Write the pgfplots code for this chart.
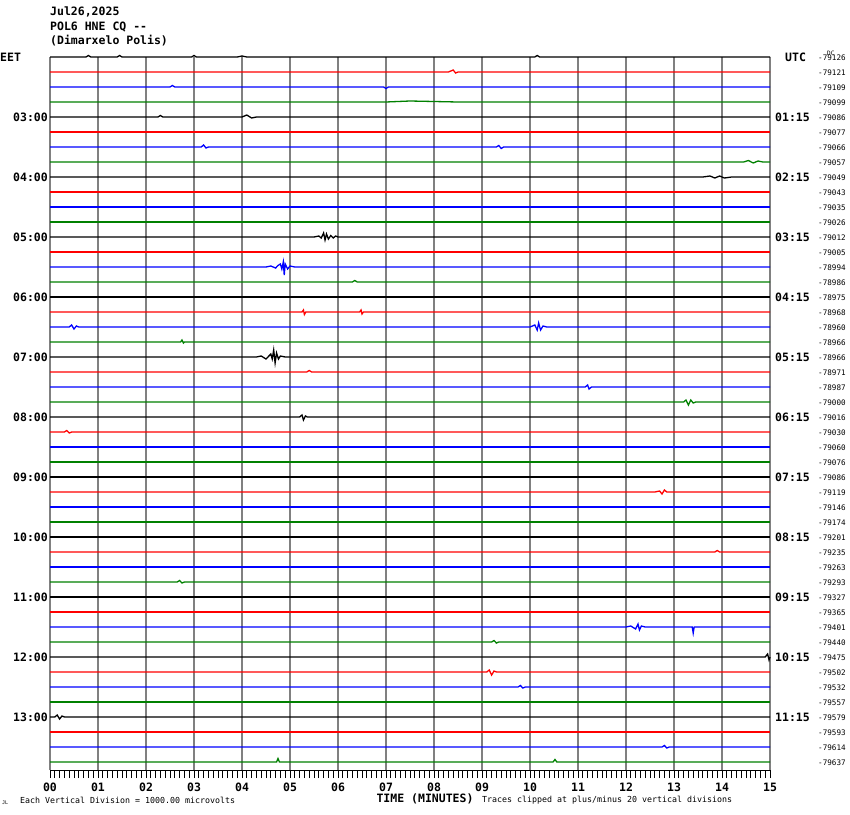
\documentclass[border=0pt]{standalone}
\usepackage{pgfplots}
\pgfplotsset{compat=1.18}
\usepackage{fontspec}
\setmainfont{DejaVu Sans Mono}
\definecolor{tgreen}{RGB}{0,128,0}
\definecolor{tred}{RGB}{255,0,0}
\definecolor{tblue}{RGB}{0,0,255}
\definecolor{gridgray}{RGB}{128,128,128}
\newcommand\bigf{\fontsize{11.5}{12}\selectfont\bfseries}
\newcommand\smallf{\fontsize{8.3}{9}\selectfont}
\newcommand\numf{\fontsize{7.6}{8}\selectfont}
\begin{document}
\begin{tikzpicture}
\path[use as bounding box] (0pt,0pt) rectangle (850pt,-814pt);
\begin{axis}[
  at={(50pt,-770pt)}, anchor=south west,
  width=720pt, height=713pt, scale only axis,
  xmin=0, xmax=15, ymin=-713, ymax=0,
  clip=false,
  axis x line*=bottom, axis y line=none,
  axis line style={black, line width=1pt},
  xtick={0,...,15},
  xticklabels={00,01,02,03,04,05,06,07,08,09,10,11,12,13,14,15},
  minor x tick num=9,
  tick align=outside,
  major tick length=8pt, minor tick length=8pt,
  tick style={black, line width=0.9pt},
  xticklabel style={font=\bigf, yshift=-1.5pt},
  xmajorgrids, grid style={gridgray, line width=1.1pt},
  every axis plot/.append style={line width=1.3pt, mark=none, line join=miter},
]
% trace 0-3
\addplot[black] coordinates {(0,0)(0.75,0)(0.8,1.5)(0.85,0)(1.4,0)(1.45,1.5)(1.5,0)(2.95,0)(3,1.5)(3.05,0)(3.9,0)(4,1)(4.1,0)(10.1,0)(10.15,1.5)(10.2,0)(15,0)};
\addplot[tred] coordinates {(0,-15)(8.3,-15)(8.4,-13)(8.45,-16)(8.5,-15)(15,-15)};
\addplot[tblue] coordinates {(0,-30)(2.5,-30)(2.55,-28.5)(2.6,-30)(6.95,-30)(7.0,-31.5)(7.05,-30)(15,-30)};
\addplot[tgreen] coordinates {(0,-45)(7,-45)(7.5,-44)(8.5,-45)(15,-45)};
% 4-7
\addplot[black] coordinates {(0,-60)(2.25,-60)(2.3,-58.5)(2.35,-60)(4.0,-60)(4.1,-58)(4.2,-61)(4.3,-60)(15,-60)};
\addplot[tred] coordinates {(0,-75)(15,-75)};
\addplot[tblue] coordinates {(0,-90)(3.15,-90)(3.2,-88)(3.25,-91)(3.3,-90)(9.3,-90)(9.35,-88.5)(9.4,-91.5)(9.45,-90)(15,-90)};
\addplot[tgreen] coordinates {(0,-105)(14.45,-105)(14.55,-103.5)(14.65,-106)(14.75,-104)(14.85,-105)(15,-105)};
% 8-11
\addplot[black] coordinates {(0,-120)(13.6,-120)(13.75,-119)(13.85,-121)(13.95,-119)(14.05,-121)(14.2,-120)(15,-120)};
\addplot[tred] coordinates {(0,-135)(15,-135)};
\addplot[tblue] coordinates {(0,-150)(15,-150)};
\addplot[tgreen] coordinates {(0,-165)(15,-165)};
% 12-15
\addplot[black] coordinates {(0,-180)(5.5,-180)(5.6,-179)(5.65,-181)(5.7,-176)(5.73,-183)(5.76,-177)(5.8,-182)(5.85,-178.5)(5.9,-181)(5.95,-179)(6.0,-180)(15,-180)};
\addplot[tred] coordinates {(0,-195)(15,-195)};
\addplot[tblue] coordinates {(0,-210)(4.5,-210)(4.6,-209)(4.7,-211)(4.75,-208.5)(4.8,-207)(4.83,-212)(4.86,-205)(4.88,-218)(4.9,-207)(4.95,-212)(5.0,-209)(5.1,-210)(15,-210)};
\addplot[tgreen] coordinates {(0,-225)(6.3,-225)(6.35,-223.5)(6.4,-225)(15,-225)};
% 16-19
\addplot[black] coordinates {(0,-240)(15,-240)};
\addplot[tred] coordinates {(0,-255)(5.25,-255)(5.28,-253)(5.3,-257.5)(5.33,-255)(6.45,-255)(6.48,-253)(6.5,-257)(6.53,-255)(15,-255)};
\addplot[tblue] coordinates {(0,-270)(0.4,-270)(0.45,-268)(0.5,-272)(0.55,-269)(0.6,-270)(10.0,-270)(10.1,-268)(10.15,-273)(10.18,-266)(10.22,-273)(10.27,-269)(10.35,-270)(15,-270)};
\addplot[tgreen] coordinates {(0,-285)(2.72,-285)(2.75,-283)(2.78,-286)(2.8,-285)(15,-285)};
% 20-23
\addplot[black] coordinates {(0,-300)(4.3,-300)(4.4,-299)(4.5,-302)(4.6,-297)(4.63,-302)(4.66,-293)(4.69,-306)(4.72,-296)(4.76,-302)(4.8,-299)(4.9,-300)(15,-300)};
\addplot[tred] coordinates {(0,-315)(5.35,-315)(5.4,-313.5)(5.45,-315)(15,-315)};
\addplot[tblue] coordinates {(0,-330)(11.15,-330)(11.2,-328)(11.23,-332)(11.28,-330)(15,-330)};
\addplot[tgreen] coordinates {(0,-345)(13.2,-345)(13.25,-343)(13.3,-348)(13.35,-343)(13.4,-346)(13.45,-345)(15,-345)};
% 24-27
\addplot[black] coordinates {(0,-360)(5.2,-360)(5.25,-358)(5.28,-363)(5.32,-359)(5.36,-360)(15,-360)};
\addplot[tred] coordinates {(0,-375)(0.3,-375)(0.35,-373.5)(0.4,-376)(0.45,-375)(15,-375)};
\addplot[tblue] coordinates {(0,-390)(15,-390)};
\addplot[tgreen] coordinates {(0,-405)(15,-405)};
% 28-31
\addplot[black] coordinates {(0,-420)(15,-420)};
\addplot[tred] coordinates {(0,-435)(12.6,-435)(12.7,-434)(12.75,-437)(12.8,-433)(12.85,-435)(15,-435)};
\addplot[tblue] coordinates {(0,-450)(15,-450)};
\addplot[tgreen] coordinates {(0,-465)(15,-465)};
% 32-35
\addplot[black] coordinates {(0,-480)(15,-480)};
\addplot[tred] coordinates {(0,-495)(13.85,-495)(13.9,-493.5)(13.95,-495)(15,-495)};
\addplot[tblue] coordinates {(0,-510)(15,-510)};
\addplot[tgreen] coordinates {(0,-525)(2.65,-525)(2.7,-523.5)(2.75,-526)(2.8,-525)(15,-525)};
% 36-39
\addplot[black] coordinates {(0,-540)(15,-540)};
\addplot[tred] coordinates {(0,-555)(15,-555)};
\addplot[tblue] coordinates {(0,-570)(12.0,-570)(12.1,-569)(12.2,-572)(12.25,-567)(12.28,-573)(12.32,-569)(12.4,-570)(13.38,-570)(13.4,-576)(13.42,-570)(15,-570)};
\addplot[tgreen] coordinates {(0,-585)(9.2,-585)(9.25,-583.5)(9.3,-586)(9.35,-585)(15,-585)};
% 40-43
\addplot[black] coordinates {(0,-600)(14.9,-600)(14.95,-597)(14.98,-603)(15,-600)};
\addplot[tred] coordinates {(0,-615)(9.1,-615)(9.15,-613)(9.2,-618)(9.25,-614)(9.3,-615)(15,-615)};
\addplot[tblue] coordinates {(0,-630)(9.75,-630)(9.8,-628.5)(9.85,-631)(9.9,-630)(15,-630)};
\addplot[tgreen] coordinates {(0,-645)(15,-645)};
% 44-47
\addplot[black] coordinates {(0,-660)(0.1,-660)(0.15,-658)(0.2,-662)(0.25,-659)(0.3,-660)(15,-660)};
\addplot[tred] coordinates {(0,-675)(15,-675)};
\addplot[tblue] coordinates {(0,-690)(12.75,-690)(12.8,-688.5)(12.85,-691)(12.9,-690)(15,-690)};
\addplot[tgreen] coordinates {(0,-705)(4.72,-705)(4.75,-701.5)(4.78,-705)(10.48,-705)(10.52,-702.5)(10.56,-705)(15,-705)};
\end{axis}
% titles
\node[anchor=west, font=\bigf, inner sep=0pt] at (50pt,-12pt) {Jul26,2025};
\node[anchor=west, font=\bigf, inner sep=0pt] at (50pt,-27pt) {POL6 HNE CQ -{}-};
\node[anchor=west, font=\bigf, inner sep=0pt] at (50pt,-41pt) {(Dimarxelo Polis)};
\node[anchor=west, font=\bigf, inner sep=0pt] at (0pt,-57pt) {EET};
\node[anchor=west, font=\bigf, inner sep=0pt] at (785pt,-57pt) {UTC};
\foreach \i/\t in {4/03:00,8/04:00,12/05:00,16/06:00,20/07:00,24/08:00,28/09:00,32/10:00,36/11:00,40/12:00,44/13:00}
  \node[anchor=east, font=\bigf, inner sep=0pt] at (48pt,{-57pt-15pt*\i}) {\t};
\foreach \i/\t in {4/01:15,8/02:15,12/03:15,16/04:15,20/05:15,24/06:15,28/07:15,32/08:15,36/09:15,40/10:15,44/11:15}
  \node[anchor=west, font=\bigf, inner sep=0pt] at (775pt,{-57pt-15pt*\i}) {\t};
\foreach \i/\v in {0/-79126,1/-79121,2/-79109,3/-79099,4/-79086,5/-79077,6/-79066,7/-79057,8/-79049,9/-79043,10/-79035,11/-79026,12/-79012,13/-79005,14/-78994,15/-78986,16/-78975,17/-78968,18/-78960,19/-78966,20/-78966,21/-78971,22/-78987,23/-79000,24/-79016,25/-79030,26/-79060,27/-79076,28/-79086,29/-79119,30/-79146,31/-79174,32/-79201,33/-79235,34/-79263,35/-79293,36/-79327,37/-79365,38/-79401,39/-79440,40/-79475,41/-79502,42/-79532,43/-79557,44/-79579,45/-79593,46/-79614,47/-79637}
  \node[anchor=west, font=\numf, inner sep=0pt] at (818pt,{-58pt-15pt*\i}) {\v};
\node[anchor=west, font=\fontsize{6}{6}\selectfont, inner sep=0pt] at (827pt,-53pt) {DC};
\node[font=\bigf, inner sep=0pt] at (425pt,-799pt) {TIME (MINUTES)};
\node[anchor=west, font=\smallf, inner sep=0pt] at (20pt,-800pt) {Each Vertical Division = 1000.00 microvolts};
\node[anchor=west, font=\smallf, inner sep=0pt] at (482pt,-800pt) {Traces clipped at plus/minus 20 vertical divisions};
\node[anchor=west, font=\fontsize{5}{5}\selectfont, inner sep=0pt] at (2pt,-803pt) {JL};
\end{tikzpicture}
\end{document}
